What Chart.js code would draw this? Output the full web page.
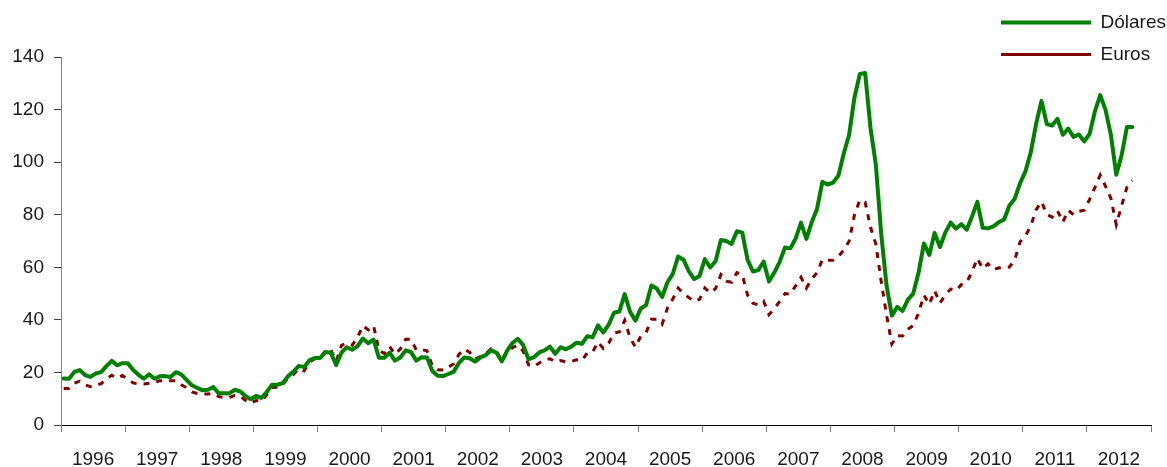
<!DOCTYPE html>
<html>
<head>
<meta charset="utf-8">
<script src="https://cdn.jsdelivr.net/npm/chart.js@4.4.1/dist/chart.umd.min.js"></script>
<style>
  body { margin: 0; background: #fff; }
  #wrap { width: 1167px; height: 467px; }
</style>
</head>
<body>
<div id="wrap"><canvas id="myChart" width="1167" height="467"></canvas></div>
<script>
// anos no eixo (um rotulo por ano, centrado)
const anos = ['1996', '1997', '1998', '1999', '2000', '2001', '2002', '2003', '2004',
  '2005', '2006', '2007', '2008', '2009', '2010', '2011', '2012']

// Brent mensal, Jan 1996 - Set 2012
const dolares = [
  17.7, 17.6, 20.2, 20.9, 19.0, 18.3, 19.6, 20.1, 22.4, 24.4, 22.7, 23.5, // 1996
  23.5, 20.9, 19.1, 17.6, 19.3, 17.6, 18.5, 18.6, 18.3, 20.1, 19.3, 17.2, // 1997
  15.1, 14.1, 13.2, 13.4, 14.4, 12.1, 12.1, 12.0, 13.4, 12.8, 11.0, 9.8,  // 1998
  11.1, 10.3, 12.5, 15.3, 15.3, 15.9, 18.6, 20.3, 22.5, 22.0, 24.6, 25.5, // 1999
  25.5, 27.8, 27.5, 22.8, 27.6, 29.6, 28.6, 30.0, 32.9, 31.1, 32.5, 25.6, // 2000
  25.6, 27.5, 24.5, 25.7, 28.4, 27.7, 24.5, 25.8, 25.7, 20.5, 18.7, 18.6, // 2001
  19.4, 20.3, 23.7, 25.7, 25.4, 24.1, 25.7, 26.6, 28.4, 27.5, 24.2, 28.3, // 2002
  31.2, 32.8, 30.4, 25.0, 25.8, 27.6, 28.4, 29.8, 27.1, 29.6, 28.8, 29.8, // 2003
  31.3, 30.9, 33.8, 33.4, 37.9, 35.2, 38.2, 42.7, 43.2, 49.8, 43.1, 39.7, // 2004
  44.3, 45.6, 53.1, 51.9, 48.7, 54.3, 57.5, 64.1, 62.9, 58.5, 55.5, 56.7, // 2005
  63.1, 59.9, 62.3, 70.4, 70.0, 68.9, 73.7, 73.2, 62.8, 58.4, 58.9, 62.2, // 2006
  54.6, 58.0, 62.1, 67.5, 67.2, 71.0, 77.0, 70.8, 77.1, 82.3, 92.5, 91.5, // 2007
  92.2, 94.9, 103.3, 110.4, 124.6, 133.5, 133.9, 113.0, 99.1, 72.8, 53.2, 41.6, // 2008
  44.9, 43.4, 47.7, 50.0, 58.0, 69.1, 64.7, 73.1, 67.7, 73.2, 77.0, 74.7, // 2009
  76.4, 74.3, 79.3, 84.9, 75.0, 74.8, 75.6, 77.1, 78.2, 83.5, 86.1, 92.0, // 2010
  96.5, 103.7, 114.6, 123.3, 114.5, 113.9, 116.5, 110.4, 112.8, 109.6, 110.5, 107.9, // 2011
  110.7, 119.3, 125.5, 119.8, 110.3, 95.2, 102.6, 113.4, 113.4            // 2012
]

const euros = [
  13.9, 13.9, 15.9, 16.7, 15.3, 14.6, 15.4, 15.7, 17.6, 18.9, 17.8, 18.8, // 1996
  17.4, 16.0, 15.6, 15.6, 15.9, 16.2, 16.8, 16.9, 16.8, 16.8, 15.3, 14.2, // 1997
  12.6, 12.0, 11.8, 11.8, 12.0, 10.8, 10.5, 10.5, 11.2, 11.0, 9.4, 8.3,   // 1998
  9.3, 9.0, 11.5, 14.3, 14.4, 15.3, 18.0, 19.2, 21.4, 20.6, 23.9, 25.2,   // 1999
  25.2, 28.4, 28.6, 24.3, 30.3, 31.2, 30.4, 33.3, 37.8, 36.2, 37.8, 28.4, // 2000
  27.2, 29.9, 26.9, 28.9, 32.6, 32.6, 28.5, 28.7, 28.2, 22.5, 21.0, 20.9, // 2001
  22.0, 23.3, 26.9, 28.9, 27.6, 25.1, 26.0, 27.1, 29.0, 28.1, 24.2, 27.7, // 2002
  29.4, 30.4, 28.1, 22.9, 22.2, 23.6, 24.9, 25.2, 24.0, 24.5, 24.0, 24.2, // 2003
  24.8, 24.5, 27.5, 27.8, 31.6, 29.1, 31.1, 35.0, 35.4, 39.8, 33.2, 29.6, // 2004
  33.8, 35.1, 40.2, 40.2, 38.3, 44.5, 47.9, 52.1, 50.0, 48.5, 47.0, 47.8, // 2005
  52.1, 50.3, 51.9, 57.2, 54.7, 54.3, 58.0, 57.2, 49.4, 46.3, 45.7, 47.1, // 2006
  42.0, 44.3, 47.0, 50.0, 49.8, 53.0, 56.2, 52.1, 55.5, 58.0, 62.9, 62.7, // 2007
  62.7, 64.1, 66.6, 69.9, 79.9, 85.6, 84.7, 75.3, 68.8, 54.7, 41.9, 30.8, // 2008
  34.0, 33.9, 36.4, 37.9, 42.6, 49.4, 45.9, 51.1, 46.4, 49.5, 51.7, 51.2, // 2009
  53.4, 54.2, 58.3, 63.4, 59.5, 61.3, 59.1, 59.8, 59.7, 60.1, 62.8, 69.7, // 2010
  72.0, 75.7, 81.9, 85.0, 80.1, 79.1, 81.5, 77.2, 81.7, 80.0, 81.3, 81.7, // 2011
  85.8, 90.4, 95.1, 90.8, 86.2, 76.2, 83.4, 90.5, 93.0                    // 2012
]

const yTicks = [0, 20, 40, 60, 80, 100, 120, 140]

// cada mes fica no meio do seu intervalo no eixo (0 .. 12*anos)
const toPoints = arr => arr.map((v, i) => ({ x: i + 0.5, y: v }))

const fonte = { family: "'Liberation Sans', Arial, sans-serif", size: 19 }

// posiciona a legenda no canto superior direito, por cima da area do grafico
const legendaCanto = {
  id: 'legendaCanto',
  afterLayout(chart) {
    const lg = chart.legend
    if (!lg) return
    lg.left = 988
    lg.right = chart.width
    lg.width = lg.right - lg.left
    lg.top = 0
  }
}

const ctx = document.getElementById('myChart')
const chart = new Chart(ctx, {
  type: 'line',
  data: {
    datasets: [
      {
        label: 'Dólares',
        data: toPoints(dolares),
        borderColor: '#008000',
        backgroundColor: '#008000',
        borderWidth: 4,
        borderCapStyle: 'round',
        borderJoinStyle: 'round',
        pointRadius: 0,
        tension: 0
      },
      {
        label: 'Euros',
        data: toPoints(euros),
        borderColor: '#800000',
        backgroundColor: '#800000',
        borderWidth: 3,
        borderDash: [6, 7],
        pointRadius: 0,
        tension: 0
      }
    ]
  },
  options: {
    responsive: false,
    animation: false,
    devicePixelRatio: 1,
    layout: { padding: { top: 57, right: 8, left: 0, bottom: 0 } },
    plugins: {
      tooltip: { enabled: false },
      legend: {
        position: 'chartArea',
        align: 'start',
        labels: {
          usePointStyle: true,
          pointStyle: 'line',
          pointStyleWidth: 90,
          padding: 13,
          color: '#1a1a1a',
          font: fonte
        }
      }
    },
    scales: {
      x: {
        type: 'linear',
        min: 0,
        max: anos.length * 12,
        afterBuildTicks: scale => {
          const t = []
          anos.forEach((a, i) => { t.push({ value: i * 12 }); t.push({ value: i * 12 + 6 }) })
          t.push({ value: anos.length * 12 })
          scale.ticks = t
        },
        afterFit: scale => { scale.height = 42 },
        ticks: {
          autoSkip: false,
          maxRotation: 0,
          padding: 16,
          color: '#1a1a1a',
          font: fonte,
          callback: v => (v % 12 === 6 ? anos[(v - 6) / 12] : '')
        },
        grid: {
          drawOnChartArea: false,
          drawTicks: true,
          tickLength: 7,
          color: c => (c.tick && c.tick.value % 12 === 0 ? '#808080' : 'rgba(0,0,0,0)')
        },
        border: { display: true, color: '#000000', width: 1 }
      },
      y: {
        min: 0,
        max: 140,
        afterBuildTicks: scale => { scale.ticks = yTicks.map(v => ({ value: v })) },
        afterFit: scale => { scale.width = 61 },
        ticks: {
          padding: 10,
          color: '#1a1a1a',
          font: fonte
        },
        grid: {
          drawOnChartArea: false,
          drawTicks: true,
          tickLength: 7,
          color: '#404040'
        },
        border: { display: true, color: '#808080', width: 1 }
      }
    }
  },
  plugins: [legendaCanto]
})
</script>
</body>
</html>
